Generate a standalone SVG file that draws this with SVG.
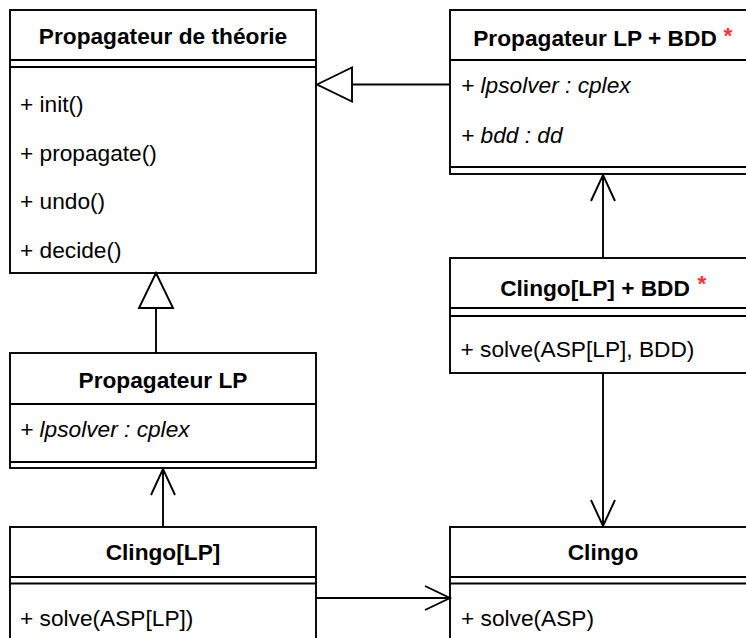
<svg xmlns="http://www.w3.org/2000/svg" width="746" height="638" viewBox="0 0 746 638">
  <style>
    .box { fill: #ffffff; stroke: #000000; stroke-width: 1.9; }
    .sep { stroke: #000000; stroke-width: 1.9; fill: none; }
    .title { font-family: "Liberation Sans", Arial, Helvetica, sans-serif; font-size: 22.7px; font-weight: bold; fill: #000000; text-anchor: middle; }
    .member { font-family: "Liberation Sans", Arial, Helvetica, sans-serif; font-size: 22.7px; fill: #000000; }
    .attr { font-style: italic; }
    .star { font-family: "Liberation Sans", Arial, Helvetica, sans-serif; font-size: 22.7px; font-weight: bold; fill: #ff3333; text-anchor: middle; }
    .edge { stroke: #000000; stroke-width: 1.9; fill: none; }
    .hollow { stroke: #000000; stroke-width: 1.9; fill: #ffffff; }
  </style>

  <!-- base class -->
  <g id="propagateur-theorie">
    <rect class="box" x="10" y="10" width="306" height="263"/>
    <line class="sep" x1="10" y1="60" x2="316" y2="60"/>
    <line class="sep" x1="10" y1="67" x2="316" y2="67"/>
    <text class="title" x="163" y="44">Propagateur de théorie</text>
    <text class="member" x="20" y="112">+ init()</text>
    <text class="member" x="20" y="160.5">+ propagate()</text>
    <text class="member" x="20" y="209">+ undo()</text>
    <text class="member" x="20" y="257.5">+ decide()</text>
  </g>

  <g id="propagateur-lp-bdd">
    <rect class="box" x="450" y="10" width="306" height="164"/>
    <line class="sep" x1="450" y1="60" x2="756" y2="60"/>
    <line class="sep" x1="450" y1="167" x2="756" y2="167"/>
    <text class="title" x="595" y="46">Propagateur LP + BDD</text>
    <text class="star" x="728" y="43">*</text>
    <text class="member attr" x="461" y="92.5">+ lpsolver : cplex</text>
    <text class="member attr" x="461" y="142.5">+ bdd : dd</text>
  </g>

  <g id="clingo-lp-bdd">
    <rect class="box" x="450" y="258" width="306" height="115"/>
    <line class="sep" x1="450" y1="308" x2="756" y2="308"/>
    <line class="sep" x1="450" y1="316" x2="756" y2="316"/>
    <text class="title" x="595" y="296">Clingo[LP] + BDD</text>
    <text class="star" x="702" y="291">*</text>
    <text class="member" x="460.5" y="357">+ solve(ASP[LP], BDD)</text>
  </g>

  <g id="propagateur-lp">
    <rect class="box" x="10" y="353" width="306" height="115"/>
    <line class="sep" x1="10" y1="404" x2="316" y2="404"/>
    <line class="sep" x1="10" y1="462" x2="316" y2="462"/>
    <text class="title" x="163" y="388">Propagateur LP</text>
    <text class="member attr" x="20" y="437">+ lpsolver : cplex</text>
  </g>

  <g id="clingo-lp">
    <rect class="box" x="10" y="527" width="306" height="130"/>
    <line class="sep" x1="10" y1="577" x2="316" y2="577"/>
    <line class="sep" x1="10" y1="583.5" x2="316" y2="583.5"/>
    <text class="title" x="163" y="560">Clingo[LP]</text>
    <text class="member" x="20" y="626">+ solve(ASP[LP])</text>
  </g>

  <g id="clingo">
    <rect class="box" x="450" y="527" width="306" height="130"/>
    <line class="sep" x1="450" y1="577" x2="756" y2="577"/>
    <line class="sep" x1="450" y1="583.5" x2="756" y2="583.5"/>
    <text class="title" x="603" y="560">Clingo</text>
    <text class="member" x="461" y="626">+ solve(ASP)</text>
  </g>

  <g id="connectors">
    <!-- generalizations -->
    <line class="edge" x1="450" y1="84.5" x2="352" y2="84.5"/>
    <polygon class="hollow" points="317,84.5 352,67.5 352,101.5"/>
    <line class="edge" x1="156" y1="353" x2="156" y2="308"/>
    <polygon class="hollow" points="156,273 139,308 173,308"/>
    <!-- associations -->
    <line class="edge" x1="163" y1="527" x2="163" y2="469"/>
    <polyline class="edge" points="151,495 163,469 175,495"/>
    <line class="edge" x1="316" y1="598" x2="450" y2="598"/>
    <polyline class="edge" points="425,586 450,598 425,610"/>
    <line class="edge" x1="603" y1="258" x2="603" y2="175"/>
    <polyline class="edge" points="591,201 603,175 615,201"/>
    <line class="edge" x1="603" y1="373" x2="603" y2="526"/>
    <polyline class="edge" points="591,500 603,526 615,500"/>
  </g>
</svg>
